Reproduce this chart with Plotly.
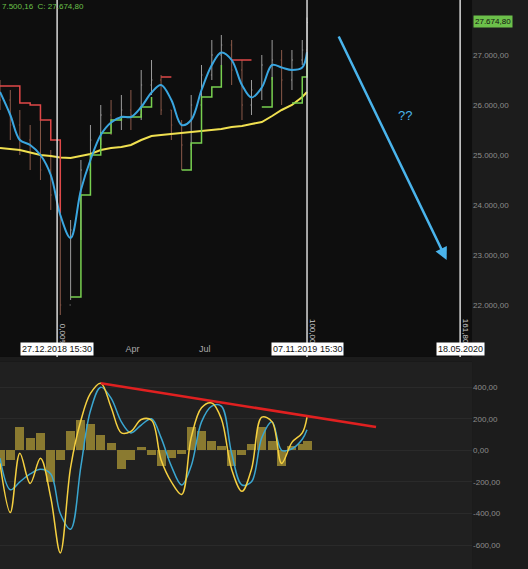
import plotly.graph_objects as go

dates = ["2018-10-16","2018-10-29","2018-11-10","2018-11-23","2018-12-06","2018-12-19","2018-12-31",
         "2019-01-13","2019-01-26","2019-02-07","2019-02-20","2019-03-05","2019-03-18","2019-03-30",
         "2019-04-12","2019-04-25","2019-05-07","2019-05-20","2019-06-02","2019-06-14","2019-06-27",
         "2019-07-10","2019-07-22","2019-08-04","2019-08-17","2019-08-29","2019-09-11","2019-09-24",
         "2019-10-06","2019-10-19","2019-11-01","2019-11-07"]
opens  = [26300,26100,25600,25300,25000,24700,24200,22000,23500,24700,25300,25800,25700,25900,25800,26400,26500,25900,25600,25200,26000,26600,27000,27200,26700,26000,26300,26800,26900,26500,26900,27100]
closes = [26100,25600,25300,25000,24700,24200,22000,23500,24700,25300,25800,25700,25900,25800,26400,26500,25900,25600,25200,26000,26600,27000,27200,26700,26000,26300,26800,26900,26500,26900,27100,27650]
highs  = [26500,26300,25900,25600,25900,25100,24500,23700,24900,25600,26000,26100,26200,26300,26700,26900,26600,25900,25700,26200,26800,27300,27400,27300,26900,26500,27000,27300,27100,27100,27300,27750]
lows   = [25900,25300,25000,24700,24500,23900,21800,22100,23300,24600,25200,25400,25500,25500,25700,26200,25800,25300,24700,25100,25900,26500,26800,26400,25700,25800,26100,26500,26000,26300,26800,27000]
ema    = [26260,25800,25300,25200,25000,24600,23800,23340,24300,24900,25400,25650,25760,25760,25960,26250,26400,26100,25600,25700,26300,26800,27050,26900,26400,26150,26350,26800,26750,26700,26750,27060]
red    = [26380,26380,26040,26000,25700,25300,23840,None,None,None,None,None,None,None,None,None,26560,26560,None,None,None,None,None,26900,26900,26900,None,None,26960,None,None,None]
green  = [None,None,None,None,None,None,None,22160,24200,25000,25440,25700,25760,25760,25960,26160,None,None,24700,25240,26160,26360,26800,None,None,None,25960,26560,None,26040,26560,27040]
sma    = [25140,25120,25100,25050,25000,24980,24950,24940,24980,25020,25100,25140,25160,25200,25300,25380,25400,25420,25440,25450,25480,25500,25520,25560,25580,25620,25660,25780,25900,26000,26160,26260]
macd   = [-83,-394,-19,-210,-51,-300,-650,-108,190,360,425,273,110,120,195,190,-60,-200,-280,80,270,300,200,-120,-260,-120,210,180,-83,50,110,210]
signal = [-50,-250,-200,-150,-120,-150,-400,-500,-100,250,400,330,180,110,160,200,80,-100,-220,-100,180,280,280,-20,-220,-200,80,180,0,10,70,130]
hist   = [-100,-60,150,80,110,-200,-60,120,190,170,100,50,-120,-60,20,-30,-100,-50,-20,150,120,60,30,-100,-30,40,150,60,-100,30,40,60]

y_ticks = [21000,22000,23000,24000,25000,26000,27000]
y_text = ["21.000,00","22.000,00","23.000,00","24.000,00","25.000,00","26.000,00","27.000,00"]
m_ticks = [-600,-400,-200,0,200,400]
m_text = ["-600,00","-400,00","-200,00","0,00","200,00","400,00"]

fig = go.Figure()
fig.add_trace(go.Ohlc(x=dates, open=opens, high=highs, low=lows, close=closes, tickwidth=0.2,
                      increasing_line_color="#9c9c9c", decreasing_line_color="#8a5a4a", line_width=1,
                      xaxis="x", yaxis="y", showlegend=False))
fig.add_trace(go.Scatter(x=dates, y=sma, mode="lines", line=dict(color="#f0e050", width=2), xaxis="x", yaxis="y"))
fig.add_trace(go.Scatter(x=dates, y=red, mode="lines", line=dict(color="#e04848", width=1.5, shape="hv"), connectgaps=False, xaxis="x", yaxis="y"))
fig.add_trace(go.Scatter(x=dates, y=green, mode="lines", line=dict(color="#78d050", width=1.5, shape="hv"), connectgaps=False, xaxis="x", yaxis="y"))
fig.add_trace(go.Scatter(x=dates, y=ema, mode="lines", line=dict(color="#3aa6e0", width=2, shape="spline"), xaxis="x", yaxis="y"))

fig.add_trace(go.Bar(x=dates, y=hist, marker=dict(color="#8a7a30", line_width=0), width=12.6*86400000*0.9, xaxis="x2", yaxis="y2"))
fig.add_trace(go.Scatter(x=dates, y=signal, mode="lines", line=dict(color="#3aa6d0", width=1.5, shape="spline"), xaxis="x2", yaxis="y2"))
fig.add_trace(go.Scatter(x=dates, y=macd, mode="lines", line=dict(color="#f5d040", width=1.5, shape="spline"), xaxis="x2", yaxis="y2"))
fig.add_trace(go.Scatter(x=["2019-02-20","2020-02-02"], y=[425,147], mode="lines", line=dict(color="#e02020", width=2.5), xaxis="x2", yaxis="y2"))

xr = ["2018-10-16","2020-06-02"]
fig.update_layout(
    width=528, height=569, margin=dict(l=0, r=0, t=0, b=0, autoexpand=False),
    paper_bgcolor="#1c1c1c", plot_bgcolor="#0e0e0e", showlegend=False, bargap=0,
    xaxis=dict(domain=[0,0.894], range=xr, anchor="y", tickvals=["2019-04-01","2019-07-01"], ticktext=["Apr","Jul"],
               ticklabelposition="inside", tickfont=dict(color="#aaaaaa", size=9, family="Arial"), automargin=False,
               showgrid=False, zeroline=False, showline=False, rangeslider=dict(visible=False)),
    yaxis=dict(domain=[0.3726,1], range=[20960,28100], side="right", tickvals=y_ticks, ticktext=y_text, automargin=False,
               tickfont=dict(color="#8c8c8c", size=8, family="Arial"), showgrid=False, zeroline=False),
    xaxis2=dict(domain=[0,0.894], range=xr, anchor="y2", showticklabels=False, showgrid=False, zeroline=False, automargin=False),
    yaxis2=dict(domain=[0,0.364], range=[-752,560], side="right", tickvals=m_ticks, ticktext=m_text, automargin=False,
                tickfont=dict(color="#8c8c8c", size=8, family="Arial"), showgrid=True, gridcolor="#2a2a2a", zeroline=False),
)
fig.add_shape(type="rect", xref="x2 domain", yref="y2 domain", x0=0, x1=1, y0=0, y1=1, fillcolor="#202020", line_width=0, layer="below")
for d in ["2018-12-27", "2019-11-07", "2020-05-18"]:
    fig.add_shape(type="line", xref="x", yref="paper", x0=d, x1=d, y0=0.3726, y1=1, line=dict(color="#d8d8d8", width=1.5))
for d, t in [("2018-12-27","0,00%"),("2019-11-07","100,00%"),("2020-05-18","161,80%")]:
    fig.add_annotation(x=d, y=21400, xref="x", yref="y", text=t, textangle=90, showarrow=False, xshift=5,
                       font=dict(color="#cccccc", size=8, family="Arial"))
for d, t in [("2018-12-27","27.12.2018 15:30"),("2019-11-07","07.11.2019 15:30"),("2020-05-18","18.05.2020")]:
    fig.add_annotation(x=d, y=0.3726, xref="x", yref="paper", text=t, showarrow=False, yanchor="bottom", yshift=1,
                       bgcolor="white", font=dict(color="#111111", size=9, family="Arial"), borderpad=1)
fig.add_annotation(x="2020-05-01", y=22900, ax="2019-12-16", ay=27400, xref="x", yref="y", axref="x", ayref="y",
                   showarrow=True, arrowhead=2, arrowsize=1, arrowwidth=2.5, arrowcolor="#4ab4ec", text="")
fig.add_annotation(x="2020-03-09", y=25800, xref="x", yref="y", text="??", showarrow=False,
                   font=dict(color="#4ab4ec", size=13, family="Arial"))
fig.add_annotation(x=0, y=1, xref="paper", yref="paper", xanchor="left", yanchor="top", text="7.500,16  C: 27.674,80",
                   showarrow=False, font=dict(color="#6cc04a", size=8, family="Arial"))
fig.add_annotation(x=0.896, y=27674, xref="paper", yref="y", xanchor="left", text="27.674,80", showarrow=False,
                   bgcolor="#6cc04a", font=dict(color="#111111", size=8, family="Arial"), borderpad=1)
fig.write_html("out.html", config={"displayModeBar": False})

with open("out.html", encoding="utf-8") as f:
    html = f.read()
html = html.replace("<head>", "<head><style>html,body{margin:0;padding:0;overflow:hidden;background:#1c1c1c}</style>", 1)
with open("out.html", "w", encoding="utf-8") as f:
    f.write(html)
